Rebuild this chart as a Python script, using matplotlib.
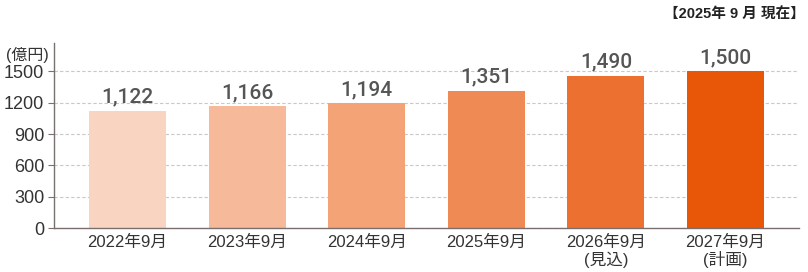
import matplotlib
matplotlib.use("Agg")
import matplotlib.pyplot as plt

plt.rcParams['font.family'] = ['Liberation Sans', 'Noto Sans CJK JP', 'DejaVu Sans']

categories = ["2022年9月", "2023年9月", "2024年9月", "2025年9月", "2026年9月\n(見込)", "2027年9月\n(計画)"]
bar_heights = [1122, 1166, 1194, 1310, 1458, 1500]
value_labels = ["1,122", "1,166", "1,194", "1,351", "1,490", "1,500"]
yticks = [0, 300, 600, 900, 1200, 1500]
colors = ["#F9D4C1", "#F6B99A", "#F3A375", "#F08A55", "#EC702F", "#E85708"]

fig = plt.figure(figsize=(8.08, 2.72), dpi=100)
ax = fig.add_axes([54/808, 1-228.3/272, (799-54)/808, (228.3-43)/272])

x = list(range(len(categories)))
ax.bar(x, bar_heights, width=0.644, color=colors, zorder=2)
for xi, h, lab in zip(x, bar_heights, value_labels):
    ax.annotate(lab, (xi, h), xytext=(0, 6), textcoords="offset points",
                ha="center", va="baseline", fontsize=15, fontweight="medium",
                family=["Roboto", "DejaVu Sans"], color="#555555")

ax.set_xlim(-0.615, 5.615)
ax.set_ylim(0, 1770)
ax.set_yticks(yticks)
ax.set_yticklabels([str(t) for t in yticks], fontsize=13, color="#333333")
ax.set_xticks(x)
ax.set_xticklabels(categories, fontsize=12, color="#333333", linespacing=1.05)
ax.tick_params(axis="x", length=0, pad=5)
ax.tick_params(axis="y", length=4, width=0.8, color="#7a6f6f", pad=3)

for s in ["top", "right"]:
    ax.spines[s].set_visible(False)
for s in ["left", "bottom"]:
    ax.spines[s].set_color("#7a6f6f")
    ax.spines[s].set_linewidth(1.0)

ax.yaxis.grid(True, linestyle=(0, (3, 2)), color="#c8c8c8", linewidth=0.8, zorder=0)
ax.set_axisbelow(True)

fig.text(6/808, 1-55/272, "(億円)", fontsize=11.5, color="#333333", ha="left", va="center")
fig.text(805/808, 1-15/272, "【2025年 9 月 現在】", fontsize=10.5, fontweight="bold",
         color="#222222", ha="right", va="center")

fig.savefig("out.png", dpi=100)
